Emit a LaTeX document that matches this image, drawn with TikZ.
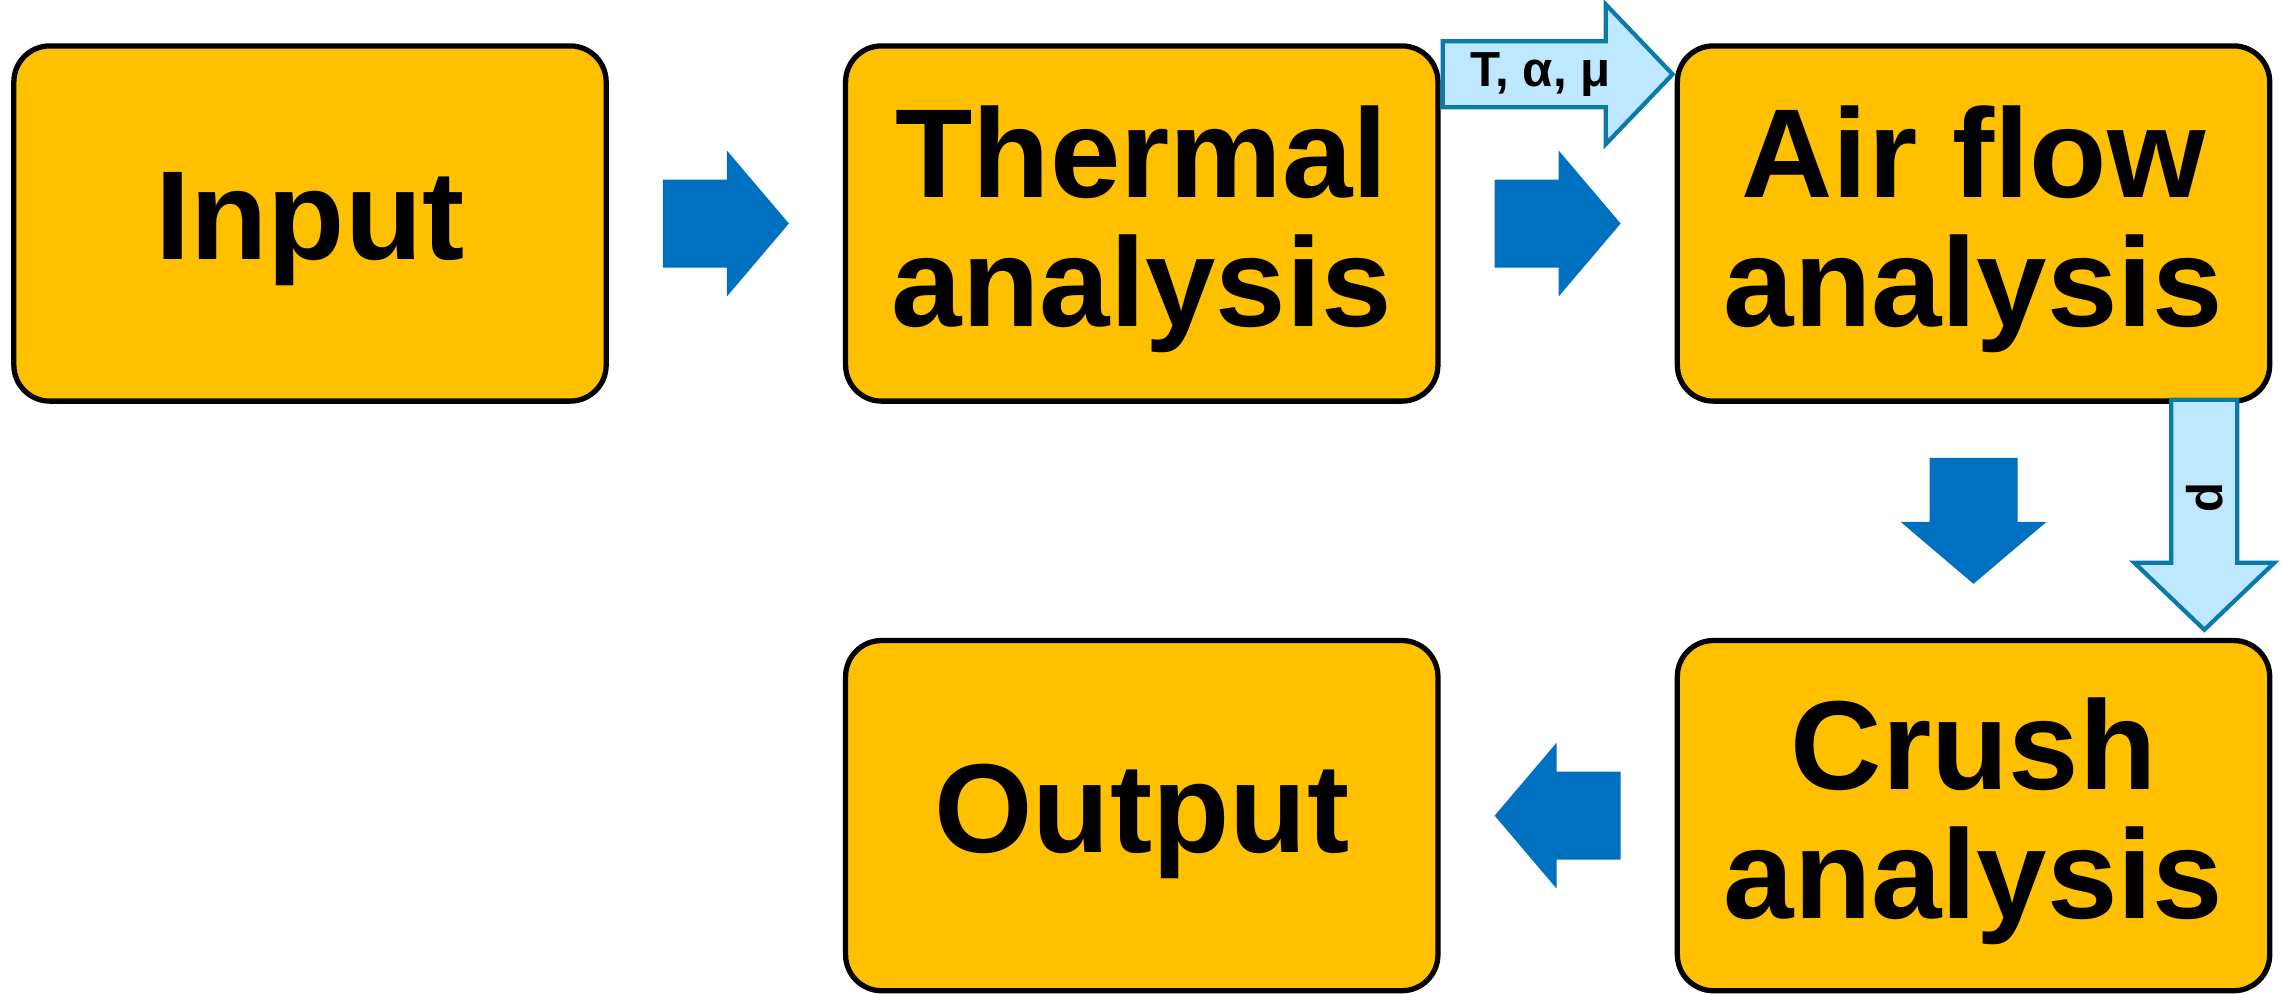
\documentclass[tikz,border=0pt]{standalone}
\usepackage{fontspec}
\setmainfont{Liberation Sans}
\usepackage{xcolor}
\usetikzlibrary{positioning,calc}

\definecolor{stageyellow}{HTML}{FFC000}
\definecolor{flowblue}{HTML}{0070C0}
\definecolor{passfill}{HTML}{BDE8FF}
\definecolor{passline}{HTML}{0A7BA8}

\tikzset{
stage/.style={draw=black, line width=1.5pt, fill=stageyellow, rounded corners=0.36cm,
  minimum width=5.92cm, minimum height=3.55cm, inner sep=0pt, align=center,
  font=\fontsize{36}{36.7}\selectfont\bfseries, text depth=0.15cm},
pics/flowarrow/.style={code={
  \fill[flowblue] (-63,-44) -- (1,-44) -- (1,-73) -- (63,0) -- (1,73) -- (1,44) -- (-63,44) -- cycle;
}},
pics/passarrow/.style={code={
  \draw[passline, fill=passfill, line width=1.2pt] (-115,-33) -- (48,-33) -- (48,-70) -- (115,0) -- (48,70) -- (48,33) -- (-115,33) -- cycle;
  \node[transform shape, font=\fontsize{14}{15}\selectfont\bfseries] at (-17,0) {#1};
}}
}

\begin{document}
\begin{tikzpicture}[x=0.01cm, y=-0.01cm, node distance=2.34cm]
\useasboundingbox (0,0) rectangle (2282,993);

\node[stage] (input) at (310,223.5) {Input};
\node[stage, right=of input] (thermal) {Thermal\\analysis};
\node[stage, right=of thermal] (airflow) {Air flow\\analysis};
\node[stage, below=of airflow, minimum height=3.5cm] (crush) {Crush\\analysis};
\node[stage, left=of crush, minimum height=3.5cm] (output) {Output};

% block arrows between the stages
\coordinate (a1) at ($(input.east)!0.5!(thermal.west)$);
\coordinate (a2) at ($(thermal.east)!0.5!(airflow.west)$);
\coordinate (a3) at ($(airflow.south)!0.5!(crush.north)$);
\coordinate (a4) at ($(crush.west)!0.5!(output.east)$);
\pic at (a1) {flowarrow};
\pic at (a2) {flowarrow};
\pic[rotate=-90] at (a3) {flowarrow};
\pic[rotate=180] at (a4) {flowarrow};

% passed quantities
\coordinate (p1) at ($(thermal.north east)!0.5!(airflow.north west)+(0,31)$);
\coordinate (p2) at ($(airflow.south east)+(-68,111)$);
\pic at (p1) {passarrow={T, α, μ}};
\pic[rotate=-90] at (p2) {passarrow=p};

\end{tikzpicture}
\end{document}
